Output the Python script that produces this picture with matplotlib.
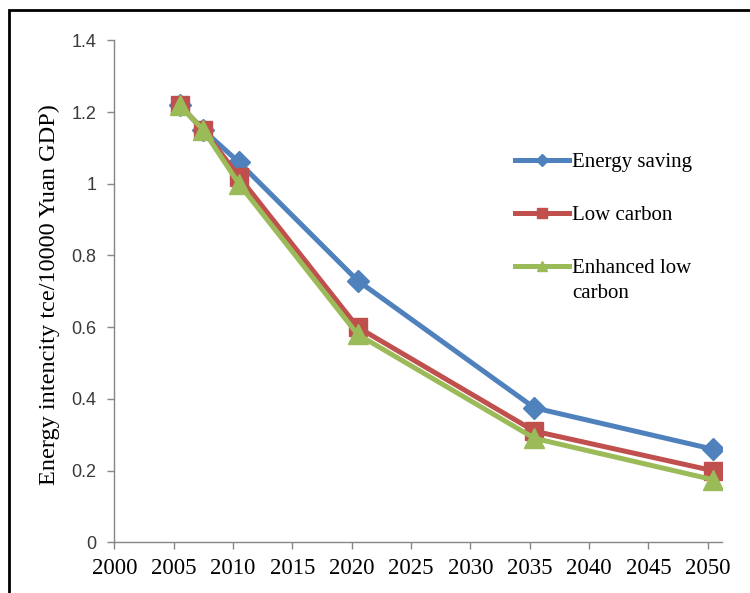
import matplotlib.pyplot as plt
from matplotlib.lines import Line2D
from matplotlib.patches import Rectangle

# data
years = [2005.5, 2007.5, 2010.5, 2020.5, 2035.4, 2050.4]
energy_saving = [1.22, 1.15, 1.06, 0.73, 0.375, 0.26]
low_carbon = [1.22, 1.15, 1.02, 0.60, 0.31, 0.20]
enhanced_low_carbon = [1.22, 1.15, 1.00, 0.58, 0.29, 0.175]
x_ticks = list(range(2000, 2051, 5))
y_ticks = [0, 0.2, 0.4, 0.6, 0.8, 1, 1.2, 1.4]
y_tick_labels = ['0', '0.2', '0.4', '0.6', '0.8', '1', '1.2', '1.4']

blue = '#4F81BD'
red = '#C0504D'
green = '#9BBB59'
serif = 'Liberation Serif'

fig = plt.figure(figsize=(7.5, 5.93), dpi=100)
# outer frame (top and left edges visible in the reference)
fig.patches.append(Rectangle((9 / 750, -0.05), 1.2, 1 - 10 / 593 + 0.05,
                             transform=fig.transFigure, fill=False,
                             edgecolor='black', linewidth=2))

ax = fig.add_axes([114.3 / 750, 50.7 / 593, 607.7 / 750, 501.9 / 593])

ax.plot(years, energy_saving, color=blue, linewidth=3.6, marker='D',
        markersize=11, zorder=3)
ax.plot(years, low_carbon, color=red, linewidth=3.6, marker='s',
        markersize=13, zorder=4)
ax.plot(years, enhanced_low_carbon, color=green, linewidth=3.6, marker='^',
        markersize=14, zorder=5)

ax.set_xlim(2000, 2051.2)
ax.set_ylim(0, 1.4)
ax.set_xticks(x_ticks)
ax.set_xticklabels([str(t) for t in x_ticks], fontfamily=serif, fontsize=16.5)
ax.set_yticks(y_ticks)
ax.set_yticklabels(y_tick_labels, fontfamily='Liberation Sans', fontsize=13,
                   color='#3a3a3a')

for s in ['top', 'right']:
    ax.spines[s].set_visible(False)
for s in ['left', 'bottom']:
    ax.spines[s].set_color('#868686')
    ax.spines[s].set_linewidth(1)
ax.tick_params(direction='out', length=5, color='#868686', width=1)
ax.tick_params(axis='x', pad=6)
ax.tick_params(axis='y', pad=8)

ax.set_ylabel('Energy intencity tce/10000 Yuan GDP)', fontfamily=serif,
              fontsize=17.5)
ax.yaxis.set_label_coords(-0.09, 0.494)

handles = [
    Line2D([], [], color=blue, linewidth=3.6, marker='D', markersize=6),
    Line2D([], [], color=red, linewidth=3.6, marker='s', markersize=7),
    Line2D([], [], color=green, linewidth=3.6, marker='^', markersize=7),
]
labels = ['Energy saving', 'Low carbon', 'Enhanced low']
leg = ax.legend(handles, labels, loc='upper left',
                bbox_to_anchor=(0.642, 0.797), frameon=False,
                prop={'family': serif, 'size': 15}, handlelength=2.6,
                handletextpad=0.15, labelspacing=1.6, borderpad=0)

# second line of the last legend label, set under its first line
fig.canvas.draw()
bb = leg.get_texts()[2].get_window_extent()
fig.text(bb.x0 / 750, (bb.y0 - 25) / 593, 'carbon', fontfamily=serif,
         fontsize=15, va='bottom', ha='left')

fig.savefig('out.png', dpi=100)
